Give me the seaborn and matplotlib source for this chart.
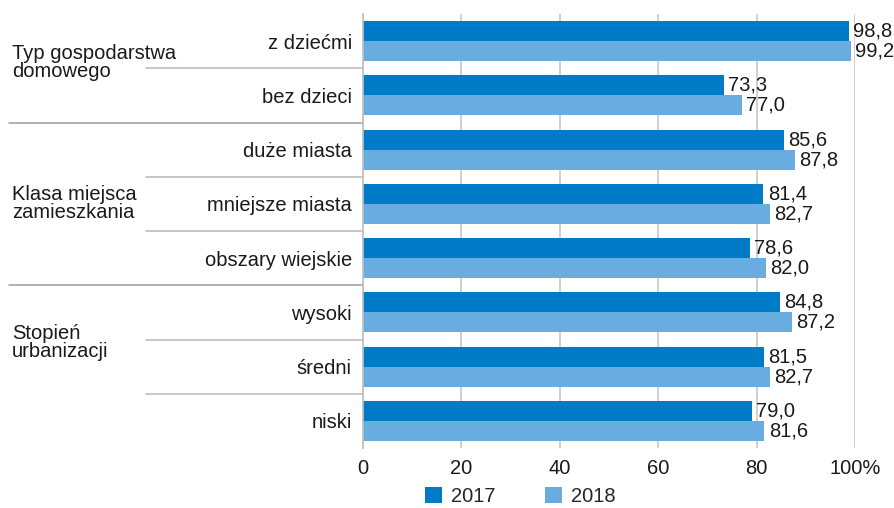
import matplotlib
matplotlib.use("Agg")
import matplotlib.pyplot as plt
import matplotlib.transforms as mtransforms
from matplotlib.patches import Patch
import seaborn as sns
import pandas as pd

categories = ["z dziećmi", "bez dzieci", "duże miasta", "mniejsze miasta",
              "obszary wiejskie", "wysoki", "średni", "niski"]
values_2017 = [98.8, 73.3, 85.6, 81.4, 78.6, 84.8, 81.5, 79.0]
values_2018 = [99.2, 77.0, 87.8, 82.7, 82.0, 87.2, 82.7, 81.6]
years = ["2017", "2018"]
groups = ["Typ gospodarstwa\ndomowego", "Klasa miejsca\nzamieszkania", "Stopień\nurbanizacji"]
group_sizes = [2, 3, 3]
xticks = [0, 20, 40, 60, 80, 100]
xticklabels = ["0", "20", "40", "60", "80", "100%"]

sns.set_theme(style="white")
plt.rcParams["font.family"] = ["Liberation Sans Narrow", "Liberation Sans", "DejaVu Sans"]

colors = ["#007BC8", "#69ADE0"]
fs = 14.5

df = pd.DataFrame({
    "cat": categories * 2,
    "val": values_2017 + values_2018,
    "year": [years[0]] * len(categories) + [years[1]] * len(categories),
})

fig = plt.figure(figsize=(8.94, 5.08), dpi=100)
ax = fig.add_axes([363 / 894, 1 - 448 / 508, (855 - 363) / 894, (448 - 14) / 508])

sns.barplot(data=df, y="cat", x="val", hue="year", palette=colors,
            orient="h", width=0.74, dodge=True, ax=ax, legend=False,
            saturation=1, order=categories, hue_order=years,
            linewidth=0, edgecolor="none")

ax.set_xlim(0, 100)
ax.set_ylim(len(categories) - 0.5, -0.5)
ax.set_xlabel("")
ax.set_ylabel("")
ax.set_xticks(xticks)
ax.set_xticklabels(xticklabels, fontsize=fs, color="#1a1a1a")
ax.tick_params(axis="y", labelsize=fs, labelcolor="#1a1a1a", length=0, pad=8)
ax.tick_params(axis="x", length=0, pad=8)
for s in ["top", "right", "bottom"]:
    ax.spines[s].set_visible(False)
ax.spines["left"].set_color("#bfbfbf")
ax.spines["left"].set_linewidth(1.2)
ax.grid(axis="x", color="#c8c8c8", linewidth=1.2)
ax.set_axisbelow(True)

# value labels
for container in ax.containers:
    labels = [f"{b.get_width():.1f}".replace(".", ",") for b in container]
    ax.bar_label(container, labels=labels, padding=3, fontsize=fs, color="#1a1a1a")

# group separators and labels
trans = mtransforms.blended_transform_factory(fig.transFigure, ax.transData)
start = 0
for gi, (g, n) in enumerate(zip(groups, group_sizes)):
    for k in range(start + 1, start + n):
        ax.plot([146 / 894, 363 / 894], [k - 0.5, k - 0.5], transform=trans,
                color="#bfbfbf", lw=1.2, clip_on=False)
    if gi < len(groups) - 1:
        ax.plot([9 / 894, 363 / 894], [start + n - 0.5, start + n - 0.5],
                transform=trans, color="#a6a6a6", lw=1.2, clip_on=False)
    start += n

group_label_y = [0.4, 3.0, 5.55]
for g, yy in zip(groups, group_label_y):
    ax.text(12 / 894, yy, g, transform=trans, ha="left", va="center",
            fontsize=fs, color="#1a1a1a", linespacing=0.95)

handles = [Patch(facecolor=c, edgecolor="none") for c in colors]
fig.legend(handles, years, loc="center", bbox_to_anchor=(0.582, 0.022),
           ncol=2, frameon=False, fontsize=fs, handlelength=0.85,
           handleheight=0.85, columnspacing=2.45, handletextpad=0.45)

fig.savefig("out.png", dpi=100)
